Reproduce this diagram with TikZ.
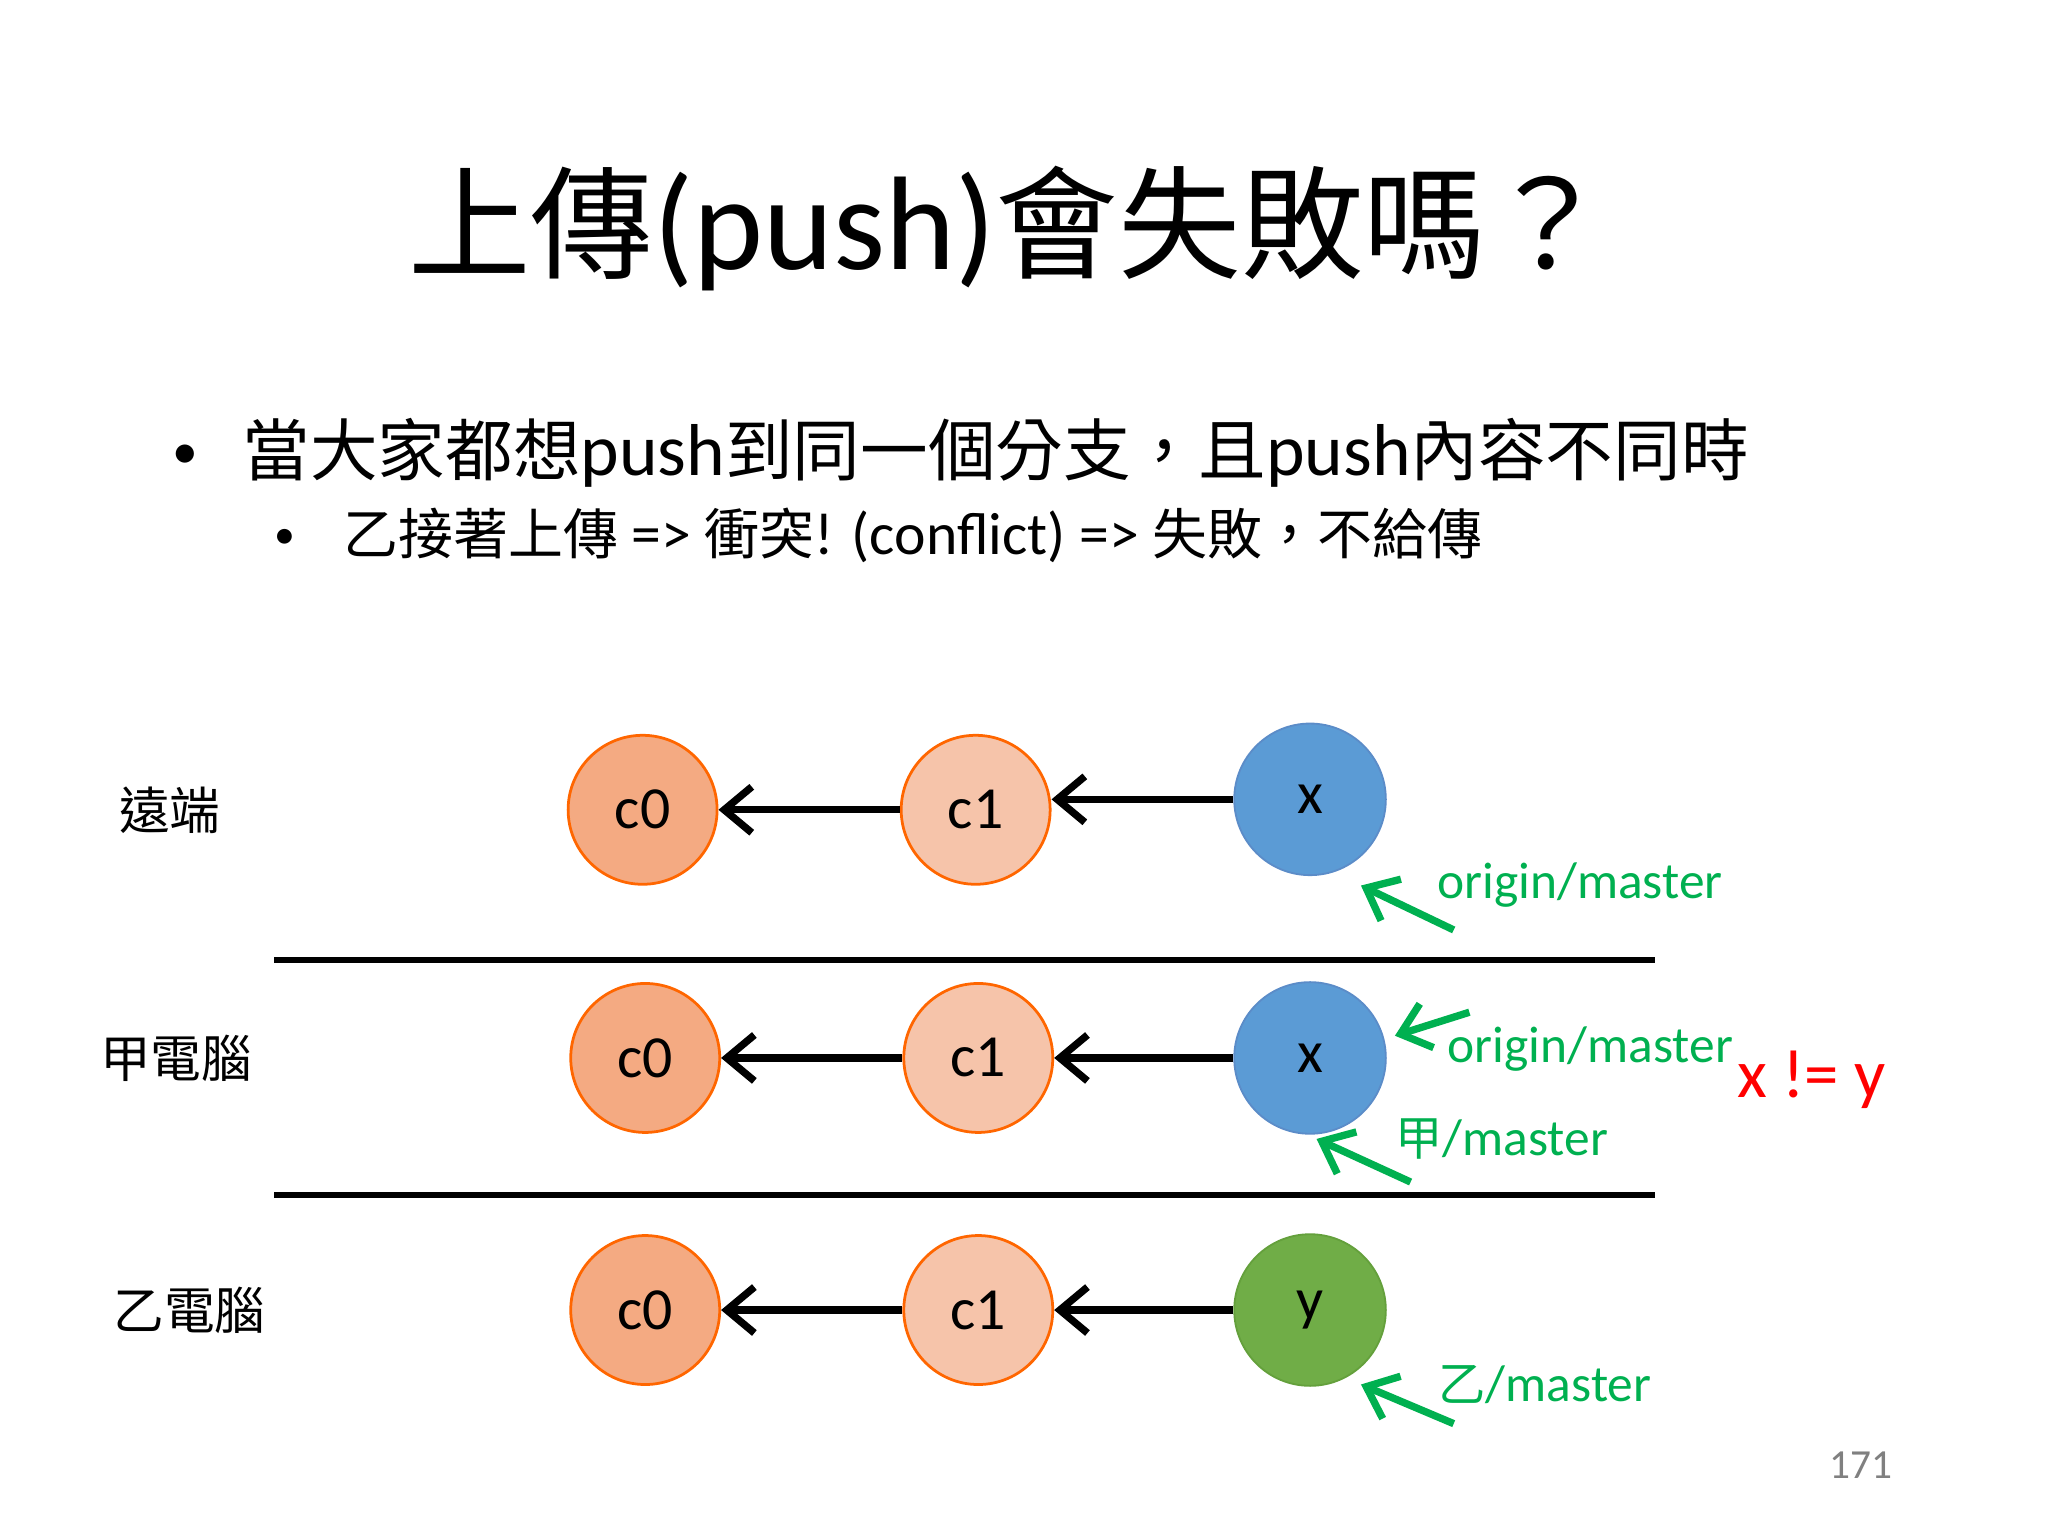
\documentclass[tikz,border=0pt]{standalone}
\usepackage{fontspec}
\setmainfont{Carlito}
\newfontfamily\cjk{Noto Sans CJK TC}[Scale=0.92]
\usetikzlibrary{arrows.meta}
\definecolor{gr}{RGB}{0,176,80}
\begin{document}
\begin{tikzpicture}[x=0.01cm,y=-0.01cm,
  cmt/.style={circle,minimum size=1.14cm,inner sep=0pt,draw=orange!80!red,line width=0.6pt,font=\fontsize{13}{15}\selectfont},
  czero/.style={cmt,fill={rgb,255:red,244;green,170;blue,130}},
  cone/.style={cmt,fill={rgb,255:red,246;green,196;blue,170}},
  bx/.style={circle,minimum size=1.16cm,inner sep=0pt,draw={rgb,255:red,91;green,140;blue,200},fill={rgb,255:red,91;green,155;blue,213},font=\fontsize{13}{15}\selectfont},
  gy/.style={circle,minimum size=1.16cm,inner sep=0pt,draw={rgb,255:red,100;green,160;blue,60},fill={rgb,255:red,112;green,173;blue,71},font=\fontsize{13}{15}\selectfont},
  ar/.style={line width=1.6pt,-{Straight Barb[length=6pt,width=10pt]}},
  ga/.style={gr,line width=1.6pt,-{Straight Barb[length=6pt,width=10pt]}},
  gl/.style={gr,font=\fontsize{11.2}{13}\selectfont},
  rl/.style={font=\cjk\fontsize{12}{14}\selectfont},
  sep/.style={line width=1.2pt}]
\useasboundingbox (0,0) rectangle (1568,1176);
\node (title) at (772,175) {\fontsize{29}{33}\selectfont{\cjk 上傳}(push){\cjk 會失敗嗎？}};
\node[anchor=west] (b1) at (120,347) {\fontsize{16}{18}\selectfont \raisebox{0.1em}{\scalebox{0.7}{•}}\hspace{0.6em}{\cjk 當大家都想}push{\cjk 到同一個分支，且}push{\cjk 內容不同時}};
\node[anchor=west] (b2) at (198,410) {\fontsize{13}{15}\selectfont \raisebox{0.1em}{\scalebox{0.7}{•}}\hspace{0.8em}{\cjk 乙接著上傳} => {\cjk 衝突}! (conflict) => {\cjk 失敗，不給傳}};
\node[rl] (r1) at (130,620) {遠端};
\node[rl] (r2) at (135,810) {甲電腦};
\node[rl] (r3) at (145,1003) {乙電腦};
\coordinate (l1a) at (210,735); \coordinate (l1b) at (1267,735);
\coordinate (l2a) at (210,915); \coordinate (l2b) at (1267,915);
\draw[sep] (l1a) -- (l1b); \draw[sep] (l2a) -- (l2b);
\node[czero] (a0) at (492,620) {c0};
\node[cone] (a1) at (747,620) {c1};
\node[bx] (ax) at (1003,612) {x};
\node[czero] (b0) at (494,810) {c0};
\node[cone] (b1c) at (749,810) {c1};
\node[bx] (bxx) at (1003,810) {x};
\node[czero] (d0) at (494,1003) {c0};
\node[cone] (d1) at (749,1003) {c1};
\node[gy] (dy) at (1003,1003) {y};
\draw[ar] (a1) -- (a0); \draw[ar] (ax.west) -- (a1.east|-ax.west);
\draw[ar] (b1c) -- (b0); \draw[ar] (bxx) -- (b1c);
\draw[ar] (d1) -- (d0); \draw[ar] (dy) -- (d1);
\coordinate (g1s) at (1113,712); \coordinate (g1e) at (1042,678);
\coordinate (g2s) at (1125,775); \coordinate (g2e) at (1068,793);
\coordinate (g3s) at (1080,905); \coordinate (g3e) at (1008,872);
\coordinate (g4s) at (1113,1090); \coordinate (g4e) at (1042,1060);
\draw[ga] (g1s) -- (g1e); \draw[ga] (g2s) -- (g2e);
\draw[ga] (g3s) -- (g3e); \draw[ga] (g4s) -- (g4e);
\node[gl,anchor=west] (t1) at (1088,678) {origin/master};
\node[gl,anchor=west] (t2) at (1096,803) {origin/master};
\node[gl,anchor=west] (t3) at (1056,872) {{\cjk 甲}/master};
\node[gl,anchor=west] (t4) at (1089,1060) {{\cjk 乙}/master};
\node[red,font=\fontsize{15}{17}\selectfont] (ne) at (1387,827) {x != y};
\node[gray,font=\fontsize{9}{11}\selectfont] (pg) at (1425,1122) {171};
\end{tikzpicture}
\end{document}
